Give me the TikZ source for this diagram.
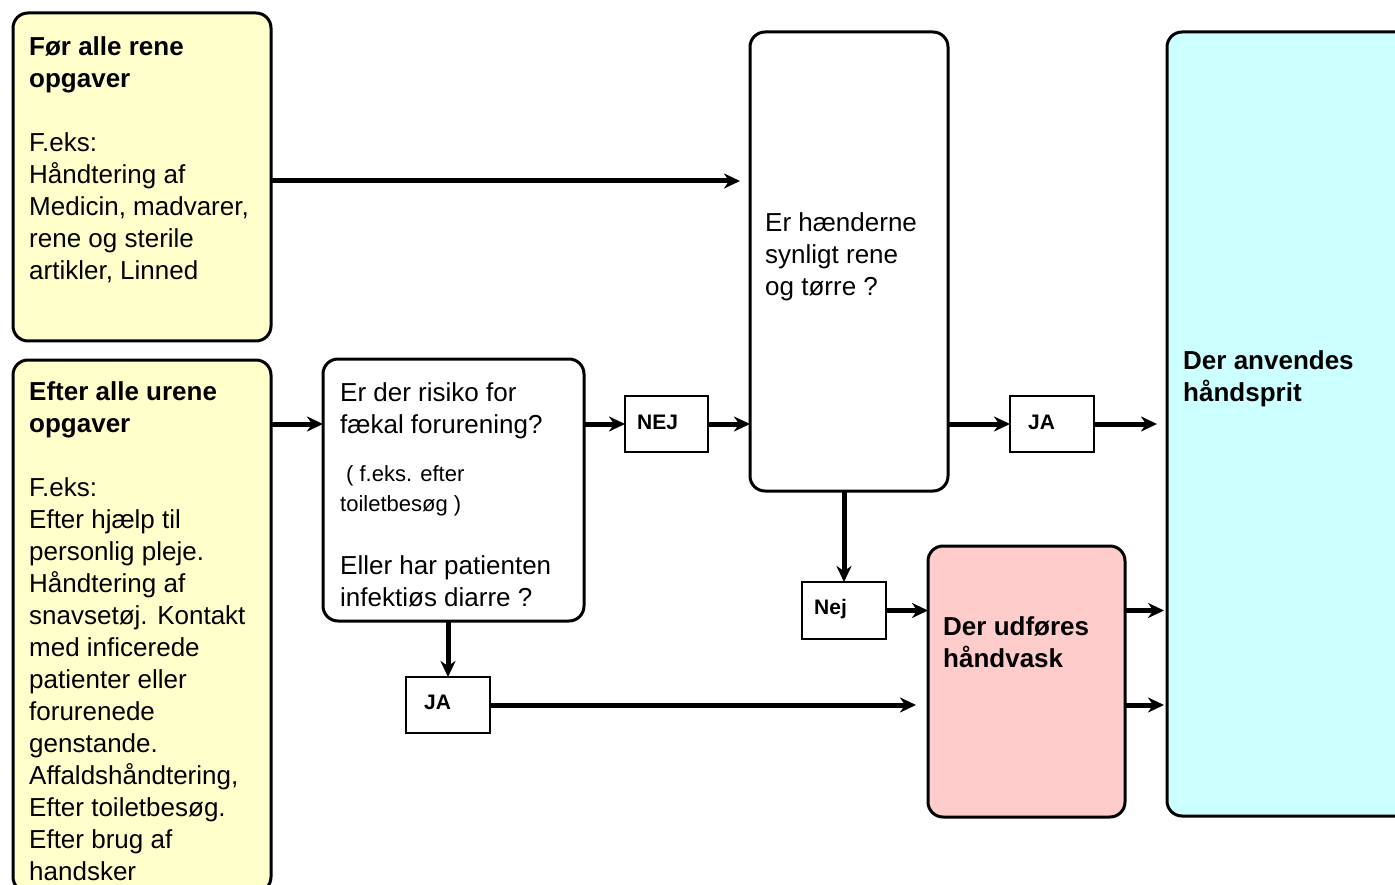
\documentclass[tikz,border=0pt]{standalone}
\usepackage{fontspec}
\setmainfont{Liberation Sans}
\usetikzlibrary{arrows.meta}
\definecolor{yel}{HTML}{FFFFCC}
\definecolor{cy}{HTML}{CCFFFF}
\definecolor{pk}{HTML}{FFCCCC}
\newcommand{\tstr}{\rule{0pt}{20pt}}
\newcommand{\sstr}{\rule{0pt}{17pt}}
\begin{document}
\begin{tikzpicture}[x=1pt,y=-1pt,
  box/.style={draw=black, line width=3pt, rounded corners=15pt, anchor=north west, inner sep=0pt, outer sep=0pt},
  lab/.style={draw=black, line width=2.2pt, fill=white, anchor=north west, inner sep=0pt, outer sep=0pt},
  txt/.style={anchor=north west, align=left, inner sep=0pt, font=\fontsize{26}{32}\selectfont},
  stxt/.style={anchor=north west, align=left, inner sep=0pt, font=\fontsize{22}{30}\selectfont},
  ltxt/.style={anchor=base west, inner sep=0pt, font=\fontsize{21}{25}\selectfont\bfseries},
  arr/.style={line width=5pt, -{Stealth[length=16pt,width=15pt,inset=5pt]}}]
\useasboundingbox (0,0) rectangle (1395,885);
\clip (0,0) rectangle (1395,885);
\fill[white] (0,0) rectangle (1395,885);

% boxes
\node[box, fill=yel, minimum width=258pt, minimum height=328pt] (A) at (13,13) {};
\node[box, fill=yel, minimum width=258pt, minimum height=532pt] (B) at (13,360) {};
\node[box, fill=white, minimum width=261pt, minimum height=262pt] (C) at (323,359) {};
\node[box, fill=white, minimum width=198pt, minimum height=459pt] (D) at (750,32) {};
\node[box, fill=cy, minimum width=260pt, minimum height=784pt] (E) at (1167,32) {};
\node[box, fill=pk, minimum width=197pt, minimum height=271pt] (F) at (928,546) {};
\node[lab, minimum width=83pt, minimum height=56pt] (NEJ) at (625,396) {};
\node[lab, minimum width=84pt, minimum height=56pt] (JAr) at (1010,396) {};
\node[lab, minimum width=84pt, minimum height=57pt] (Nejb) at (802,582) {};
\node[lab, minimum width=84pt, minimum height=56pt] (JAb) at (406,677) {};

% texts
\node[txt] (tA) at (29,35) {\tstr\textbf{Før alle rene}\\\textbf{opgaver}\\[32pt]F.eks:\\Håndtering af\\Medicin, madvarer,\\rene og sterile\\artikler, Linned};
\node[txt] (tB) at (29,380) {\tstr\textbf{Efter alle urene}\\\textbf{opgaver}\\[32pt]F.eks:\\Efter hjælp til\\personlig pleje.\\Håndtering af\\snavsetøj. Kontakt\\med inficerede\\patienter eller\\forurenede\\genstande.\\Affaldshåndtering,\\Efter toiletbesøg.\\Efter brug af\\handsker};
\node[txt] (tC1) at (340,381) {\tstr Er der risiko for\\fækal forurening?};
\node[stxt] (tC2) at (340,464) {\sstr\hspace{6pt}( f.eks. efter\\toiletbesøg )};
\node[txt] (tC3) at (340,554) {\tstr Eller har patienten\\infektiøs diarre ?};
\node[txt] (tD) at (765,211) {\tstr Er hænderne\\synligt rene\\og tørre ?};
\node[txt, font=\fontsize{26}{32}\selectfont\bfseries] (tE) at (1183,349) {\tstr Der anvendes\\håndsprit};
\node[txt, font=\fontsize{26}{32}\selectfont\bfseries] (tF) at (943,615) {\tstr Der udføres\\håndvask};
\node[ltxt] (lNEJ) at (637,429) {NEJ};
\node[ltxt] (lJAr) at (1028,429) {JA};
\node[ltxt] (lNej) at (814,614) {Nej};
\node[ltxt] (lJAb) at (424,709) {JA};

% connectors
\draw[arr, shorten >=10pt] ([yshift=-4pt]A.east) -- ([yshift=-4pt]A.east -| D.west);
\draw[arr] (B.east |- NEJ.west) -- (C.west |- NEJ.west);
\draw[arr] (C.east |- NEJ.west) -- (NEJ.west);
\draw[arr] (NEJ.east) -- (NEJ.east -| D.west);
\draw[arr] (D.east |- JAr.west) -- (JAr.west);
\draw[arr, shorten >=10pt] (JAr.east) -- (JAr.east -| E.west);
\draw[arr] (D.south -| Nejb.north) -- (Nejb.north);
\draw[arr] (Nejb.east) -- (Nejb.east -| F.west);
\draw[arr] (C.south -| JAb.north) -- (JAb.north);
\draw[arr, shorten >=12pt] (JAb.east) -- (JAb.east -| F.west);
\draw[arr, shorten >=3pt] (F.east |- Nejb.east) -- (Nejb.east -| E.west);
\draw[arr, shorten >=3pt] (F.east |- JAb.east) -- (JAb.east -| E.west);
\end{tikzpicture}
\end{document}
